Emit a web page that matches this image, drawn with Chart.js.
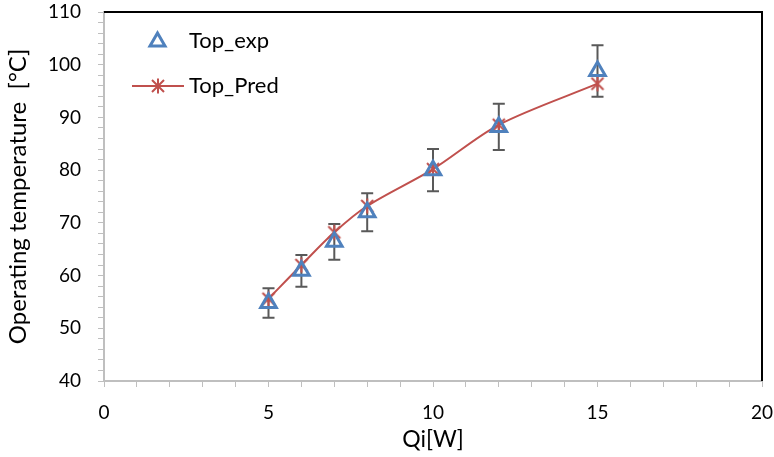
<!DOCTYPE html>
<html>
<head>
<meta charset="utf-8">
<script src="https://cdn.jsdelivr.net/npm/chart.js@4"></script>
<style>
  html, body { margin: 0; background: #fff; overflow: hidden; }
</style>
</head>
<body>
<canvas id="myChart" width="774" height="457"></canvas>
<script>
// data
const qi = [5, 6, 7, 8, 10, 12, 15];
const topExp = [54.8, 60.9, 66.4, 72.0, 80.0, 88.2, 98.8];
const topExpErr = [2.8, 3.0, 3.4, 3.6, 4.0, 4.4, 4.9];
const topPred = [55.6, 62.0, 68.2, 73.2, 80.2, 88.6, 96.4];
const seriesNames = ["Top_exp", "Top_Pred"];

const FONT = "Lato, 'Open Sans', sans-serif";
const blue = "#4f81bd";
const red = "#c0504d";
const axisGrey = "#bfbfbf";

// excel style star marker (X with a vertical stroke)
function makeStar() {
  const c = document.createElement("canvas");
  c.width = 18; c.height = 18;
  const g = c.getContext("2d");
  g.strokeStyle = red;
  g.lineWidth = 2;
  g.beginPath();
  g.moveTo(3, 3); g.lineTo(15, 15);
  g.moveTo(15, 3); g.lineTo(3, 15);
  g.moveTo(9, 1.5); g.lineTo(9, 16.5);
  g.stroke();
  return c;
}
const starMark = makeStar();

// error bars under the markers
const errorBars = {
  id: "errorBars",
  beforeDatasetsDraw(chart) {
    const {ctx, scales: {x, y}} = chart;
    ctx.save();
    ctx.strokeStyle = "#595959";
    ctx.lineWidth = 2;
    qi.forEach((q, i) => {
      const px = x.getPixelForValue(q);
      const top = y.getPixelForValue(topExp[i] + topExpErr[i]);
      const bot = y.getPixelForValue(topExp[i] - topExpErr[i]);
      ctx.beginPath();
      ctx.moveTo(px, top); ctx.lineTo(px, bot);
      ctx.moveTo(px - 6, top); ctx.lineTo(px + 6, top);
      ctx.moveTo(px - 6, bot); ctx.lineTo(px + 6, bot);
      ctx.stroke();
    });
    ctx.restore();
  }
};

// black frame on top and right side + legend inside the plot
const frameAndLegend = {
  id: "frameAndLegend",
  afterDraw(chart) {
    const {ctx, chartArea: {top, bottom, left, right}} = chart;
    ctx.save();
    ctx.strokeStyle = "#000";
    ctx.lineWidth = 2;
    ctx.beginPath();
    ctx.moveTo(left, top); ctx.lineTo(right, top); ctx.lineTo(right, bottom);
    ctx.stroke();

    // legend
    ctx.font = "22px " + FONT;
    ctx.fillStyle = "#000";
    ctx.textBaseline = "middle";
    // triangle
    ctx.strokeStyle = blue;
    ctx.lineWidth = 3;
    ctx.beginPath();
    ctx.moveTo(157.5, 33); ctx.lineTo(165, 46); ctx.lineTo(150, 46); ctx.closePath();
    ctx.stroke();
    ctx.fillText(seriesNames[0], 189, 41);
    // line + star
    ctx.strokeStyle = red;
    ctx.lineWidth = 2;
    ctx.beginPath();
    ctx.moveTo(132, 86); ctx.lineTo(184, 86);
    ctx.stroke();
    ctx.drawImage(starMark, 149, 77);
    ctx.fillText(seriesNames[1], 189, 86);
    ctx.restore();
  }
};

const config = {
  type: "line",
  data: {
    datasets: [
      {
        label: seriesNames[0],
        data: qi.map((q, i) => ({x: q, y: topExp[i]})),
        showLine: false,
        pointStyle: "triangle",
        pointRadius: 9,
        pointBorderWidth: 3,
        pointBorderColor: blue,
        pointBackgroundColor: "rgba(0,0,0,0)",
        order: 0
      },
      {
        label: seriesNames[1],
        data: qi.map((q, i) => ({x: q, y: topPred[i]})),
        borderColor: red,
        borderWidth: 2,
        tension: 0.3,
        pointStyle: starMark,
        order: 1
      }
    ]
  },
  options: {
    responsive: false,
    animation: false,
    layout: { padding: { top: 12, right: 0 } },
    scales: {
      x: {
        type: "linear",
        min: 0,
        max: 20,
        ticks: {
          stepSize: 1,
          autoSkip: false,
          maxRotation: 0,
          color: "#000",
          font: { family: FONT, size: 19 },
          padding: 14,
          callback: v => (v % 5 === 0 ? v : "")
        },
        grid: { drawOnChartArea: false, tickLength: 6, tickColor: axisGrey },
        border: { color: axisGrey, width: 2 },
        title: {
          display: true,
          text: "Qi[W]",
          color: "#000",
          font: { family: FONT, size: 23 },
          padding: { top: 0 }
        },
        afterFit(scale) {
          scale.height = 76;
          scale.paddingLeft = 0;
          scale.paddingRight = 0;
        }
      },
      y: {
        min: 40,
        max: 110,
        ticks: {
          stepSize: 2,
          autoSkip: false,
          color: "#000",
          font: { family: FONT, size: 19 },
          padding: 17,
          callback: v => (v % 10 === 0 ? v : "")
        },
        grid: { drawOnChartArea: false, tickLength: 6, tickColor: axisGrey },
        border: { color: axisGrey, width: 2 },
        title: {
          display: true,
          text: "Operating temperature  [°C]",
          color: "#000",
          font: { family: FONT, size: 24 },
          padding: { bottom: 0 }
        },
        afterFit(scale) {
          scale.width = 104;
          scale.paddingTop = 0;
          scale.paddingBottom = 0;
        }
      }
    },
    plugins: {
      legend: { display: false },
      tooltip: { enabled: false }
    }
  },
  plugins: [errorBars, frameAndLegend]
};

new Chart(document.getElementById("myChart"), config);
</script>
</body>
</html>
